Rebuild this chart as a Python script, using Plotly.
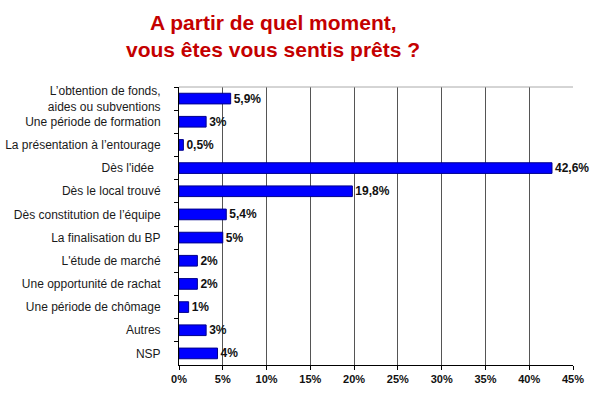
import plotly.graph_objects as go

categories = [
    "L’obtention de fonds,<br>aides ou subventions",
    "Une période de formation",
    "La présentation à l’entourage",
    "Dès l'idée\u00a0\u00a0",
    "Dès le local trouvé",
    "Dès constitution de l’équipe",
    "La finalisation du BP",
    "L'étude de marché",
    "Une opportunité de rachat",
    "Une période de chômage",
    "Autres",
    "NSP",
]
values = [5.9, 3.1, 0.5, 42.6, 19.8, 5.4, 5.0, 2.1, 2.1, 1.1, 3.1, 4.4]
value_labels = ["5,9%", "3%", "0,5%", "42,6%", "19,8%", "5,4%", "5%", "2%", "2%", "1%", "3%", "4%"]
x_ticks = [0, 5, 10, 15, 20, 25, 30, 35, 40, 45]
x_tick_labels = [f"{v}%" for v in x_ticks]
title_lines = ["A partir de quel moment,", "vous êtes vous sentis prêts ?"]

W, H = 601, 396
FONT = "Arial, Liberation Sans, sans-serif"

fig = go.Figure(
    go.Bar(
        x=values,
        y=categories,
        orientation="h",
        width=0.46,
        marker=dict(color="#0000ff", line=dict(color="#00008b", width=1)),
        text=value_labels,
        textposition="outside",
        constraintext="none",
        textfont=dict(family=FONT, size=12, color="#111111", weight="bold"),
        cliponaxis=False,
        hoverinfo="skip",
    )
)

annotations = []
for i, line in enumerate(title_lines):
    annotations.append(dict(
        text=line, xref="paper", yref="paper",
        x=(273 - 179) / (W - 179 - 28), y=1 + (87 - (22 + 28 * i)) / (H - 87 - 31),
        xanchor="center", yanchor="middle", showarrow=False,
        font=dict(family=FONT, size=21, color="#c40000", weight="bold"),
    ))

fig.update_layout(
    width=W,
    height=H,
    margin=dict(l=179, r=28, t=87, b=31, autoexpand=False),
    paper_bgcolor="white",
    plot_bgcolor="white",
    showlegend=False,
    annotations=annotations,
    xaxis=dict(
        range=[0, 45],
        tickvals=x_ticks,
        ticktext=x_tick_labels,
        showgrid=True,
        gridcolor="#555555",
        gridwidth=1,
        zeroline=False,
        showline=True,
        linecolor="#000000",
        linewidth=1,
        ticks="outside",
        ticklen=4,
        tickcolor="#000000",
        automargin=False,
        tickfont=dict(family=FONT, size=11, color="#111111", weight="bold"),
    ),
    yaxis=dict(
        categoryorder="array",
        categoryarray=categories,
        autorange="reversed",
        showgrid=False,
        showline=True,
        linecolor="#000000",
        linewidth=1,
        ticks="outside",
        ticklen=4,
        tickcolor="#000000",
        tickson="boundaries",
        ticklabelstandoff=15,
        automargin=False,
        tickfont=dict(family=FONT, size=12, color="#1a1a1a"),
    ),
    shapes=[
        dict(type="line", xref="paper", yref="paper", x0=0, x1=1, y0=1, y1=1,
             line=dict(color="#aaaaaa", width=1)),
    ],
)

fig.write_html(
    "out.html",
    config={"displayModeBar": False},
    post_script="document.body.style.margin='0';document.body.style.overflow='hidden';",
)
